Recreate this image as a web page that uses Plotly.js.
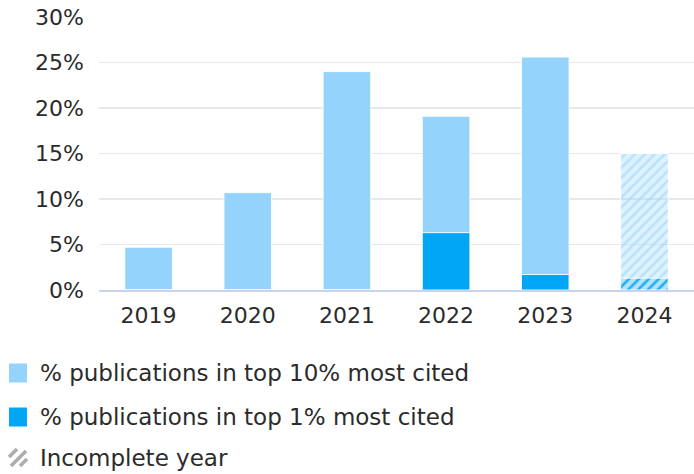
<!DOCTYPE html>
<html>
<head>
<meta charset="utf-8">
<script src="https://cdn.plot.ly/plotly-3.0.1.min.js"></script>
<style>html,body{margin:0;padding:0;background:#fff;}#chart{width:694px;height:474px;}</style>
</head>
<body>
<div id="chart"></div>
<script>
// ---- data ----
var years = ['2019', '2020', '2021', '2022', '2023', '2024'];
var top10 = [4.7, 10.7, 24.0, 19.1, 25.6, 15.0];
var top1 = [0, 0, 0, 6.3, 1.7, 1.3];
var incomplete = [false, false, false, false, false, true];
var yTicks = [0, 5, 10, 15, 20, 25, 30];
var yTickText = ['0%', '5%', '10%', '15%', '20%', '25%', '30%'];
var legendLabels = ['% publications in top 10% most cited', '% publications in top 1% most cited', 'Incomplete year'];

// ---- style ----
var LIGHT = '#94d4fc';
var DARK = '#00a6f4';
var FONT = 'DejaVu Sans, sans-serif';
var TXT = '#2b2b2b';
var W = 694, H = 474;
var M = {l: 99, r: 0, t: 17, b: 184};

function pattern(base, fgInc, bgInc) {
  return {
    shape: incomplete.map(function (f) { return f ? '/' : ''; }),
    fgcolor: incomplete.map(function (f) { return f ? fgInc : base; }),
    bgcolor: incomplete.map(function (f) { return f ? bgInc : base; }),
    size: 7,
    solidity: 0.35,
    fillmode: 'replace'
  };
}

var traces = [
  {
    type: 'bar', x: years, y: top10, name: legendLabels[0],
    width: 0.48,
    marker: {
      color: LIGHT,
      line: {color: 'rgba(255,255,255,0.9)', width: 1},
      pattern: pattern(LIGHT, 'rgba(148,212,252,0.55)', 'rgba(148,212,252,0.3)')
    },
    hoverinfo: 'skip', showlegend: false
  },
  {
    type: 'bar', x: years, y: top1, name: legendLabels[1],
    width: 0.48,
    marker: {
      color: DARK,
      line: {color: 'rgba(255,255,255,0.9)', width: 1},
      pattern: pattern(DARK, 'rgba(0,166,244,0.85)', 'rgba(148,212,252,0.55)')
    },
    hoverinfo: 'skip', showlegend: false
  }
];

// paper coords relative to plot area, from page pixels
function paperX(x) { return (x - M.l) / (W - M.l - M.r); }
function paperY(y) { return (H - M.b - y) / (H - M.t - M.b); }

var rowY = [373, 417, 458];
var shapes = [];
var annotations = [];
var sqL = 9, sqR = 27;
shapes.push({type: 'rect', xref: 'paper', yref: 'paper', x0: paperX(sqL), x1: paperX(sqR), y0: paperY(rowY[0] + 9.5), y1: paperY(rowY[0] - 9.5), fillcolor: LIGHT, line: {width: 0}});
shapes.push({type: 'rect', xref: 'paper', yref: 'paper', x0: paperX(sqL), x1: paperX(sqR), y0: paperY(rowY[1] + 9.5), y1: paperY(rowY[1] - 9.5), fillcolor: DARK, line: {width: 0}});
// hatch icon (incomplete year)
var hy = rowY[2];
var segs = [[9, hy - 1, 17, hy - 9], [11, hy + 8, 26, hy - 7], [20, hy + 8, 27, hy + 1]];
segs.forEach(function (s) {
  shapes.push({type: 'line', xref: 'paper', yref: 'paper', x0: paperX(s[0]), y0: paperY(s[1]), x1: paperX(s[2]), y1: paperY(s[3]), line: {color: '#adadad', width: 3.5}});
});
legendLabels.forEach(function (t, i) {
  annotations.push({xref: 'paper', yref: 'paper', x: paperX(38), y: paperY(rowY[i]), xanchor: 'left', yanchor: 'middle', text: t, showarrow: false, font: {family: FONT, size: 23, color: TXT}});
});

var layout = {
  width: W, height: H,
  margin: M,
  paper_bgcolor: '#fff', plot_bgcolor: '#fff',
  barmode: 'overlay',
  showlegend: false,
  font: {family: FONT, color: TXT},
  xaxis: {
    type: 'category', categoryorder: 'array', categoryarray: years,
    showgrid: false, zeroline: false,
    showline: true, linecolor: '#c9d2f2', linewidth: 1.5,
    ticks: '', tickfont: {family: FONT, size: 22, color: TXT},
    ticklabelstandoff: 5,
    fixedrange: true
  },
  yaxis: {
    range: [0, 30],
    tickvals: yTicks, ticktext: yTickText,
    showgrid: true, gridcolor: '#e8e8e8', gridwidth: 1.5,
    zeroline: false, showline: false,
    ticks: '', tickfont: {family: FONT, size: 22, color: TXT},
    ticklabelstandoff: 14,
    fixedrange: true
  },
  shapes: shapes,
  annotations: annotations
};

Plotly.newPlot('chart', traces, layout, {staticPlot: true, displayModeBar: false});
</script>
</body>
</html>
